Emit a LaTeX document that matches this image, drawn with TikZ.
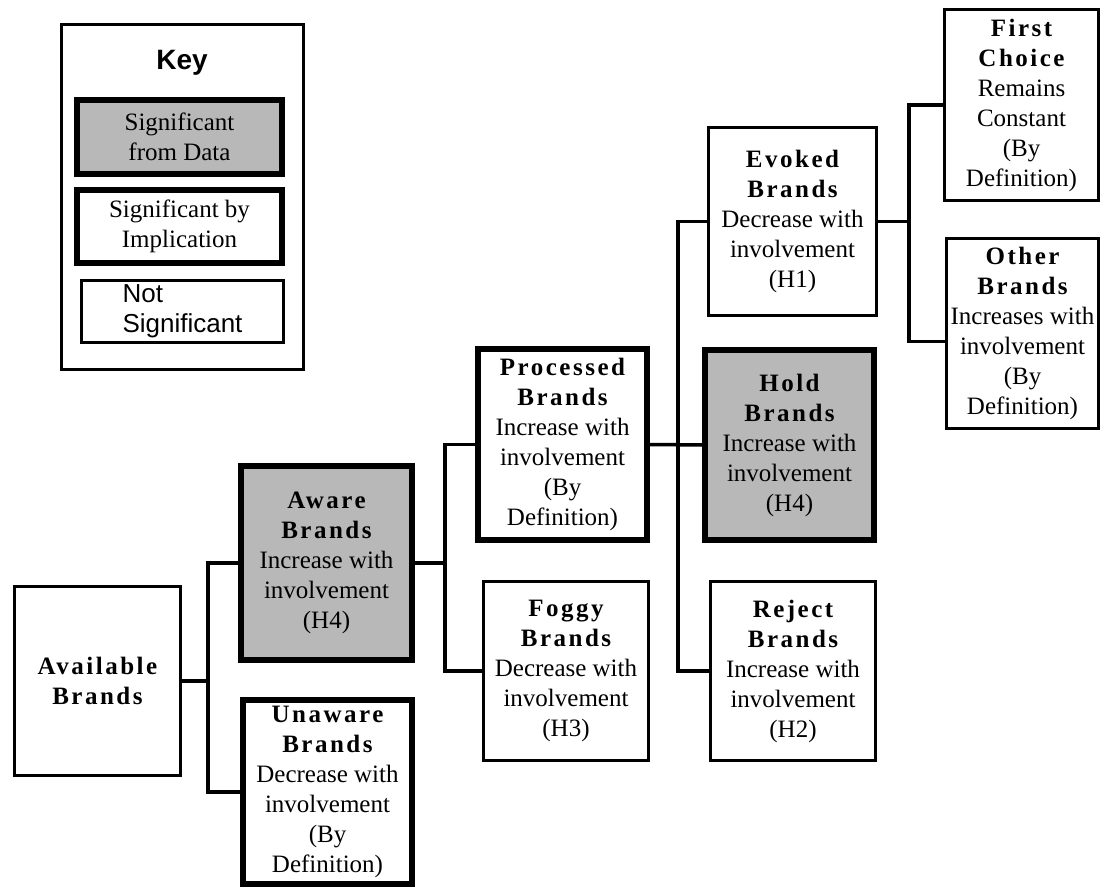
\documentclass[tikz,border=0pt]{standalone}
\usepackage{fontspec}
\setmainfont{Liberation Serif}
\setsansfont{Liberation Sans}

% letter-spaced bold heading used in the brand boxes
\newcommand{\hd}[1]{{\bfseries\addfontfeature{LetterSpace=10}#1}}

\begin{document}
\begin{tikzpicture}[
    x=1pt, y=-1pt, % work in pixel units, y pointing down
    box/.style={draw, line width=3.5pt, align=center, inner sep=0pt,
      font=\fontsize{25}{30}\selectfont}, % not significant
    sig impl/.style={box, line width=6pt}, % significant by implication
    sig data/.style={box, line width=6pt, fill=black!28}, % significant from data
    link/.style={line width=3.5pt} % tree connectors
  ]
  \useasboundingbox (0,0) rectangle (1103,890);

  % --- Key ---
  \node[draw, line width=2.5pt, minimum width=242, minimum height=345] (key) at (182.5,197) {};
  \node[font=\sffamily\bfseries\fontsize{28}{30}\selectfont] (keytitle) at (182,63) {Key};
  \node[sig data, minimum width=205, minimum height=74] (keydata) at (179.5,137) {Significant\\from Data};
  \node[sig impl, minimum width=205, minimum height=73] (keyimpl) at (179.5,226.5) {Significant by\\Implication};
  \node[box, minimum width=202, minimum height=62, align=left,
    font=\sffamily\fontsize{26}{30}\selectfont] (keynot) at (182.5,311.5) {Not\\Significant};

  % --- Brand boxes ---
  \node[box, minimum width=166, minimum height=189] (avail) at (97.5,681) {\hd{Available}\\\hd{Brands}};
  \node[sig data, minimum width=171, minimum height=194] (aware) at (326.5,563)
    {\hd{Aware}\\\hd{Brands}\\Increase with\\involvement\\(H4)};
  \node[sig impl, minimum width=169, minimum height=184] (unaware) at (327.5,792)
    {\hd{Unaware}\\\hd{Brands}\\Decrease with\\involvement\\(By\\Definition)};
  \node[sig impl, minimum width=169, minimum height=191] (processed) at (562.5,444.5)
    {\hd{Processed}\\\hd{Brands}\\Increase with\\involvement\\(By\\Definition)};
  \node[box, minimum width=165, minimum height=179] (foggy) at (566,671)
    {\hd{Foggy}\\\hd{Brands}\\Decrease with\\involvement\\(H3)};
  \node[box, minimum width=168, minimum height=188] (evoked) at (792.5,221.5)
    {\hd{Evoked}\\\hd{Brands}\\Decrease with\\involvement\\(H1)};
  \node[sig data, minimum width=169, minimum height=190] (hold) at (789.5,445)
    {\hd{Hold}\\\hd{Brands}\\Increase with\\involvement\\(H4)};
  \node[box, minimum width=165, minimum height=179] (reject) at (793,671)
    {\hd{Reject}\\\hd{Brands}\\Increase with\\involvement\\(H2)};
  \node[box, minimum width=154, minimum height=191] (first) at (1021.5,105)
    {\hd{First}\\\hd{Choice}\\Remains\\Constant\\(By\\Definition)};
  \node[box, minimum width=152, minimum height=190] (other) at (1022.5,333.5)
    {\hd{Other}\\\hd{Brands}\\Increases with\\involvement\\(By\\Definition)};

  % --- Branch points ---
  \coordinate (j1) at (208,681);
  \coordinate (j2) at (445,563);
  \coordinate (j3) at (678,444.5);
  \coordinate (j4) at (909,221.5);

  % --- Connectors ---
  \draw[link] (avail.east) -- (j1);
  \draw[link] (aware.west) -| (j1) |- (unaware.west);
  \draw[link] (aware.east) -- (j2);
  \draw[link] (processed.west) -| (j2) |- (foggy.west);
  \draw[link] (processed.east) -- (hold.west);
  \draw[link] (evoked.west) -| (j3) |- (reject.west);
  \draw[link] (evoked.east) -- (j4);
  \draw[link] (first.west) -| (j4) |- ([yshift=-8pt]other.west);
\end{tikzpicture}
\end{document}
